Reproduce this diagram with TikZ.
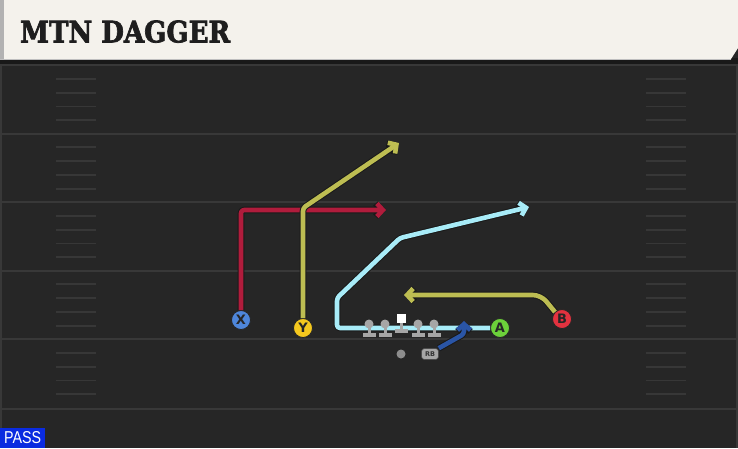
\documentclass[tikz,border=0pt]{standalone}
\usepackage{graphicx}
\usepackage{fontspec}
\setmainfont{DejaVu Sans}
\newfontfamily\titlefont[BoldFeatures={FakeBold=2.5}]{DejaVu Serif}
\newfontfamily\passfont{Liberation Sans}
\usetikzlibrary{arrows.meta}
\definecolor{field}{HTML}{262626}
\definecolor{yardc}{HTML}{383838}
\definecolor{hashc}{HTML}{373737}
\definecolor{cream}{HTML}{F4F2EC}
\definecolor{titlec}{HTML}{1E1E1E}
\definecolor{passblue}{HTML}{0A2BE0}
\definecolor{xred}{HTML}{B01C3C}
\definecolor{yolive}{HTML}{BDBD52}
\definecolor{acyan}{HTML}{A8ECF8}
\definecolor{rbblue}{HTML}{2A55A6}
\definecolor{xblue}{HTML}{4E86DA}
\definecolor{yyellow}{HTML}{F5C81E}
\definecolor{agreen}{HTML}{6CD03A}
\definecolor{bred}{HTML}{E2323F}
\definecolor{lgray}{HTML}{A6A6A6}
\newcommand\rte[2]{\draw[routeout] #2; \draw[routein,draw=#1] #2;}
\tikzset{
  yard/.style={draw=yardc, line width=2pt},
  hash/.style={draw=hashc, line width=1.8pt},
  routeout/.style={draw=black!90, line width=6.6pt, rounded corners=3pt, line join=round,
    -{Straight Barb[length=6pt,width=13pt]}},
  routein/.style={line width=4.6pt, rounded corners=3pt, line join=round,
    -{Straight Barb[length=6pt,width=13pt]}},
  player/.style={circle, draw=black!85, line width=0.8pt, minimum size=19pt, inner sep=0pt,
    font=\bfseries\fontsize{13}{13}\selectfont},
  oline/.pic={
    \fill[lgray] (0,0) circle (4.5);
    \fill[lgray] (-1.5,2) rectangle (1.5,10);
    \fill[lgray] (-6.5,9) rectangle (6.5,13);
  },
  ocenter/.pic={
    \fill[white] (-4.5,-5) rectangle (4.5,4);
    \fill[lgray] (-1.5,4) rectangle (1.5,11);
    \fill[lgray] (-6.5,10) rectangle (6.5,14);
  }
}
\begin{document}
\begin{tikzpicture}[x=1pt,y=-1pt]
\useasboundingbox (0,0) rectangle (738,448);
\fill[field] (0,0) rectangle (738,448);
% side lines
\draw[yardc, line width=2pt] (1,60) -- (1,448);
\draw[yardc, line width=2pt] (737,60) -- (737,448);
% yard lines and hashes
\foreach \y in {65,133.5,202,270.5,339,409} \draw[yard] (0,\y) -- (738,\y);
\foreach \y in {65,133.5,202,270.5,339} \foreach \k in {1,2,3,4} {
  \draw[hash] (56,{\y+\k*13.8}) -- (96,{\y+\k*13.8});
  \draw[hash] (646,{\y+\k*13.8}) -- (686,{\y+\k*13.8});
}
% header
\fill[black!90] (0,58) rectangle (738,64);
\fill[cream] (0,0) -- (738,0) -- (738,48) -- (731,59) -- (0,59) -- cycle;
\fill[black!30] (0,0) rectangle (4,59);
\draw[black!25, line width=0.8pt] (0,59) -- (731,59);
\node[anchor=south west, inner sep=0pt, text=titlec] (title) at (20,43)
  {\resizebox{210pt}{22pt}{\titlefont\bfseries MTN DAGGER}};
% PASS label
\node[anchor=south west, fill=passblue, minimum width=45pt, minimum height=20pt, inner sep=0pt,
  text=white] (pass) at (0,448) {\resizebox{37pt}{12pt}{\passfont PASS}};
% players
\node[player, fill=xblue, text=black!85] (X) at (241,320) {X};
\node[player, fill=yyellow, text=black!85] (Y) at (303,328) {Y};
\node[player, fill=agreen, text=black!85] (A) at (500,328) {A};
\node[player, fill=bred, text=black!85] (B) at (562,319) {B};
\node[circle, fill=lgray!85!black, minimum size=9pt, inner sep=0pt] (QB) at (401,354) {};
\node[rounded corners=3pt, fill=lgray, draw=black!70, line width=0.6pt, minimum width=17pt,
  minimum height=11pt, inner sep=0pt, font=\bfseries\fontsize{6.5}{6.5}\selectfont, text=black!80]
  (RB) at (430,354) {RB};
% route coordinates
\coordinate (xc) at (241,210);
\coordinate (xe) at (386,210);
\coordinate (yc) at (303,208);
\coordinate (ye) at (399,143);
\coordinate (a1) at (337,328);
\coordinate (a2) at (337,298);
\coordinate (a3) at (400,238);
\coordinate (ae) at (529,207);
\coordinate (b1) at (541,295);
\coordinate (be) at (404,295);
\coordinate (r1) at (464,334);
\coordinate (re) at (464,321);
% routes
\rte{acyan}{(A.west) -- (a1) -- (a2) -- (a3) -- (ae)}
\rte{xred}{(X.north) -- (xc) -- (xe)}
\rte{yolive}{(Y.north) -- (yc) -- (ye)}
\rte{yolive}{(B.north west) [rounded corners=8pt] -- (b1) -- (be)}
\rte{rbblue}{(RB.north east) -- (r1) -- (re)}
% offensive line
\pic (ol1) at (369,324) {oline};
\pic (ol2) at (385,324) {oline};
\pic (oc) at (401,319) {ocenter};
\pic (ol4) at (418,324) {oline};
\pic (ol5) at (434,324) {oline};
\end{tikzpicture}
\end{document}
